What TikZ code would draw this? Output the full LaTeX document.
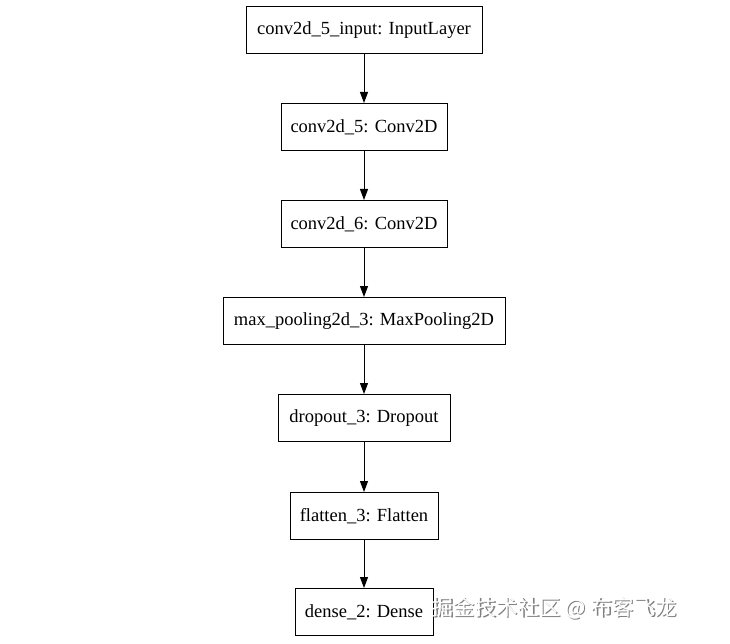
\documentclass[tikz,border=0pt]{standalone}
\usepackage{fontspec}
\setmainfont{Liberation Serif}
\newfontfamily\cjk{Noto Sans CJK SC}
\usetikzlibrary{arrows.meta}
\begin{document}
\begin{tikzpicture}[x=1pt,y=-1pt,
  layer/.style={draw,line width=1pt,minimum height=47pt,inner sep=0pt,font=\fontsize{18.5}{18.5}\selectfont},
  conn/.style={line width=1pt,-{Triangle[length=11pt,width=8pt]}}]
\useasboundingbox[fill=white] (0,0) rectangle (730,644);
\node[layer,minimum width=236pt] (a) at (364,30) {conv2d\_5\_input: InputLayer};
\node[layer,minimum width=166pt] (b) at (364,127) {conv2d\_5: Conv2D};
\node[layer,minimum width=166pt] (c) at (364,224) {conv2d\_6: Conv2D};
\node[layer,minimum width=282pt] (d) at (364,321) {max\_pooling2d\_3: MaxPooling2D};
\node[layer,minimum width=172pt] (e) at (364,418) {dropout\_3: Dropout};
\node[layer,minimum width=148pt] (f) at (364,516) {flatten\_3: Flatten};
\node[layer,minimum width=138pt] (g) at (364,612) {dense\_2: Dense};
\draw[conn] (a) -- (b);
\draw[conn] (b) -- (c);
\draw[conn] (c) -- (d);
\draw[conn] (d) -- (e);
\draw[conn] (e) -- (f);
\draw[conn] (f) -- (g);
\node[anchor=west,text=gray,font=\cjk\fontsize{21.5}{21.5}\selectfont] (w1) at (429.5,609.5) {掘金技术社区 @ 布客飞龙};
\node[anchor=west,text=white,font=\cjk\fontsize{21.5}{21.5}\selectfont] (w2) at (428,608) {掘金技术社区 @ 布客飞龙};
\end{tikzpicture}
\end{document}
